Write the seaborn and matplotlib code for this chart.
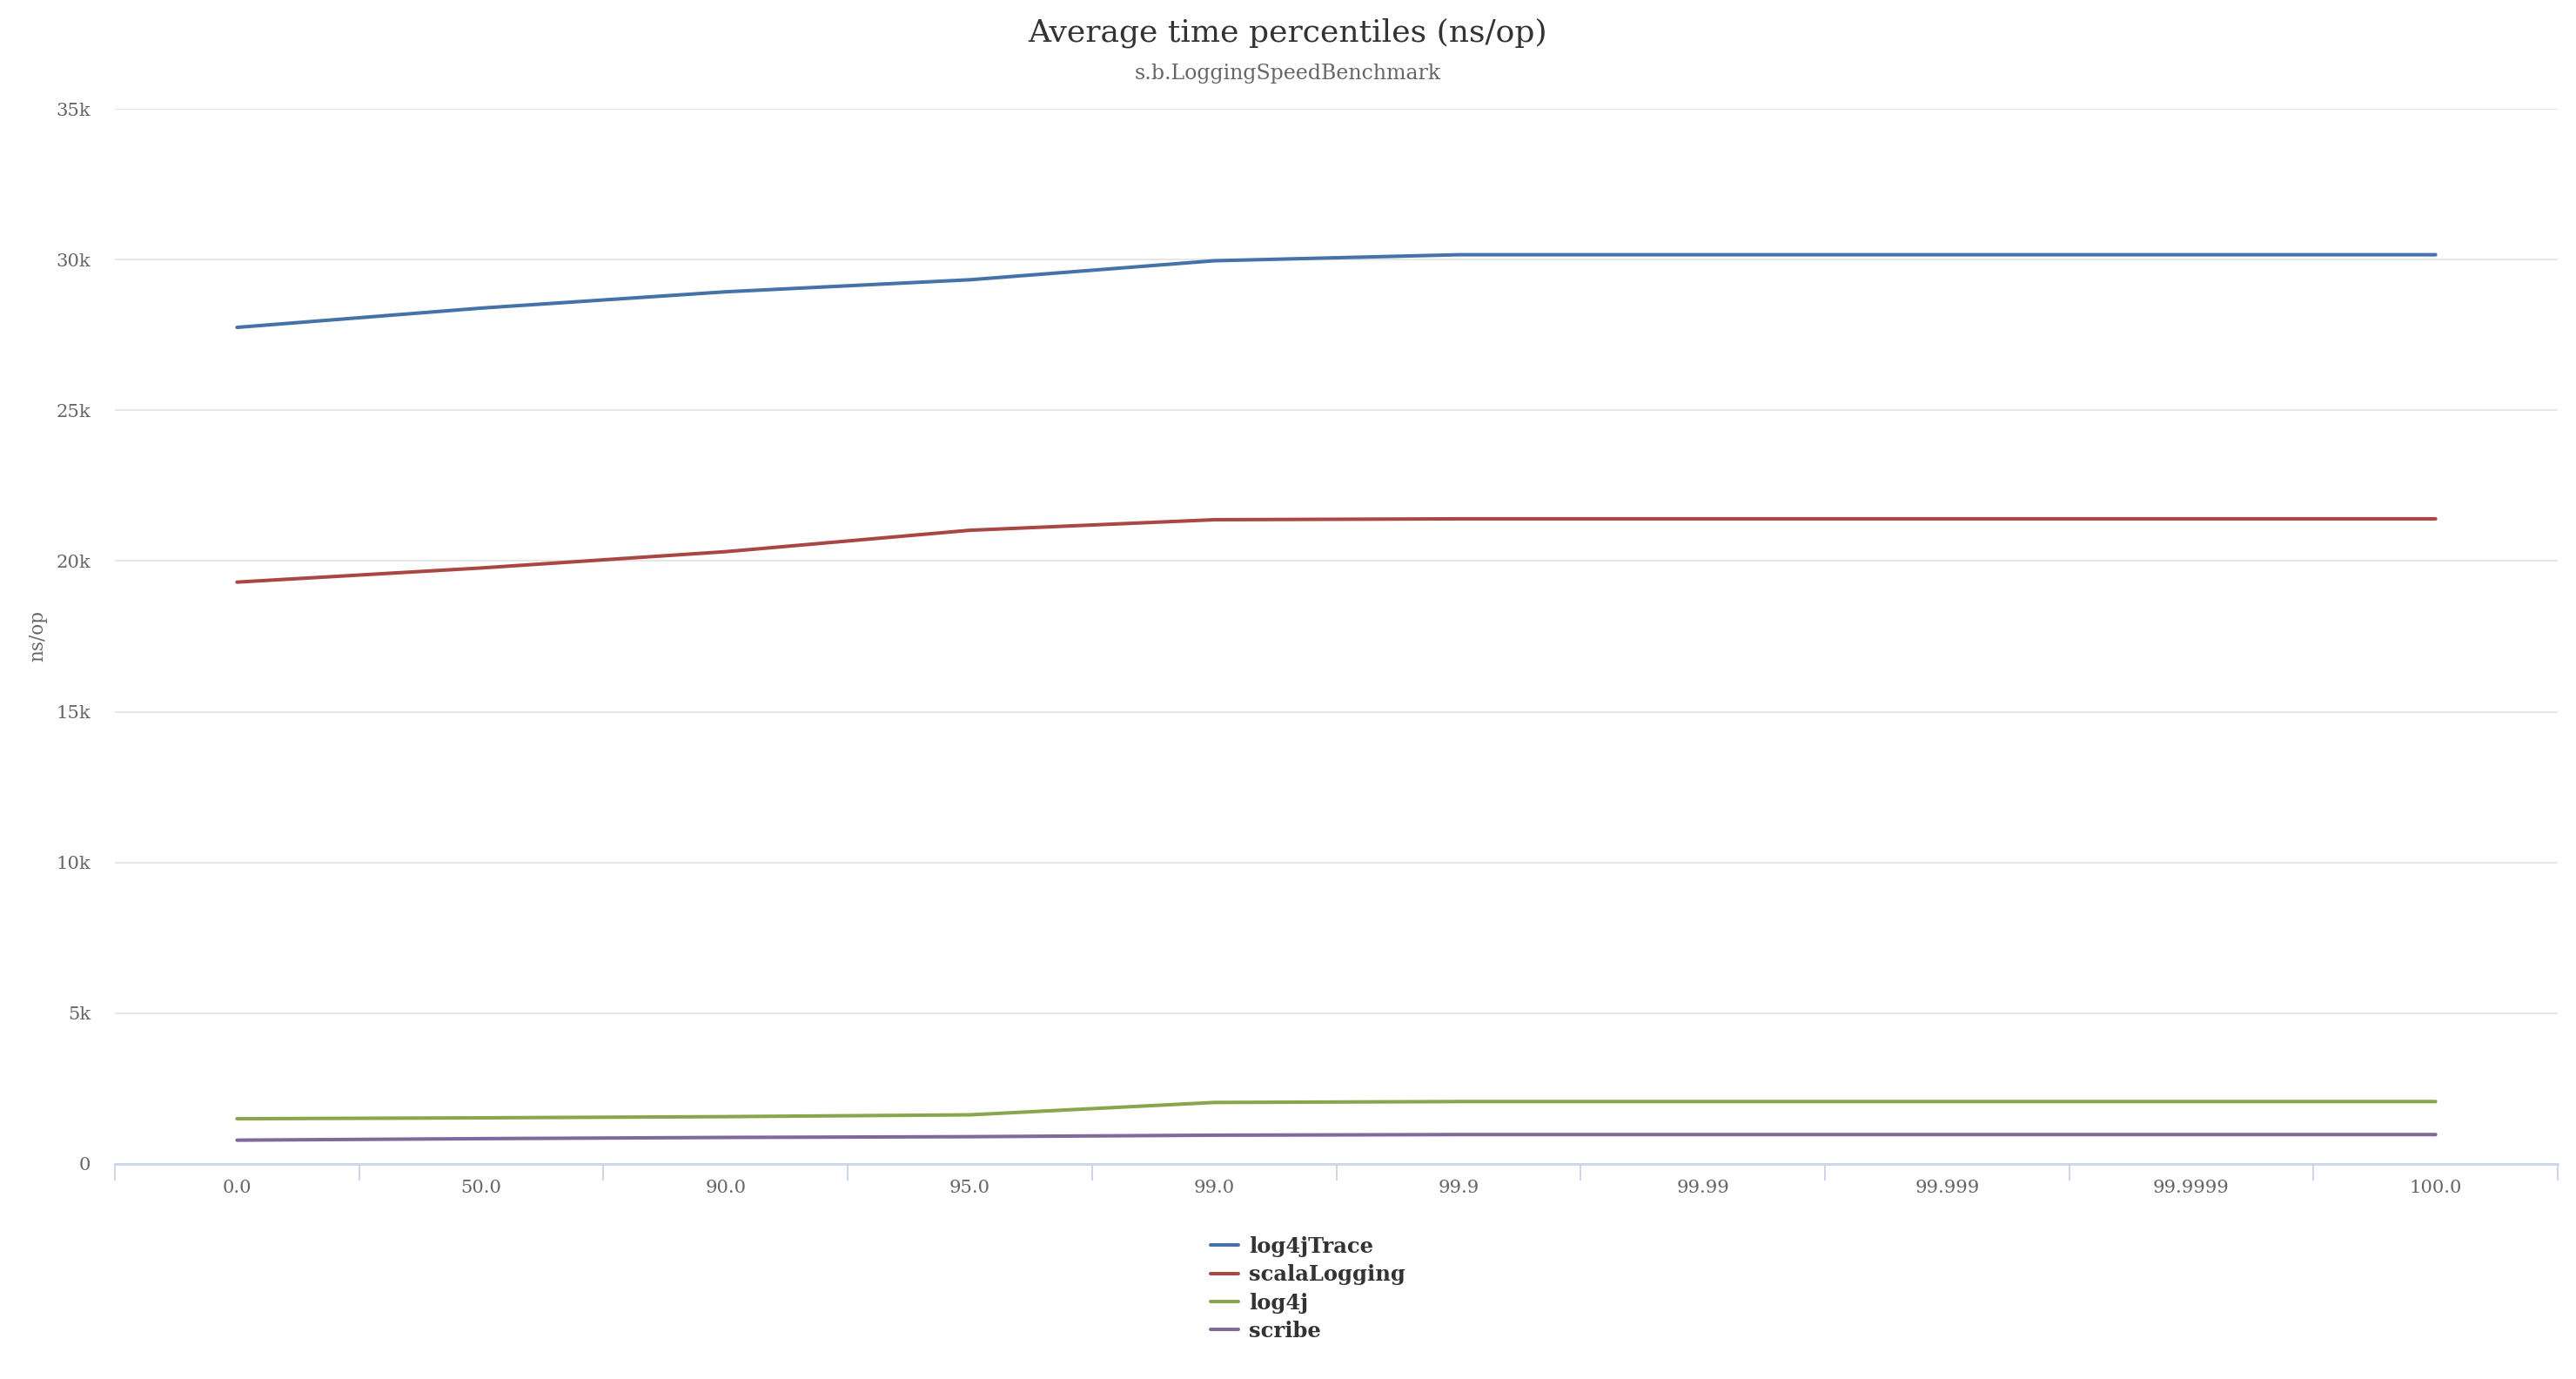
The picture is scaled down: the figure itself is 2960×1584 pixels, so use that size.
import matplotlib
matplotlib.use("Agg")
import matplotlib.pyplot as plt
import seaborn as sns
import pandas as pd
from matplotlib.ticker import FixedLocator, FuncFormatter

percentiles = ["0.0", "50.0", "90.0", "95.0", "99.0", "99.9", "99.99", "99.999", "99.9999", "100.0"]
log4jTrace = [27750, 28390, 28930, 29330, 29960, 30160, 30160, 30160, 30160, 30160]
scalaLogging = [19300, 19770, 20310, 21020, 21370, 21400, 21400, 21400, 21400, 21400]
log4j = [1500, 1530, 1570, 1630, 2040, 2070, 2070, 2070, 2070, 2070]
scribe = [790, 840, 880, 905, 955, 975, 975, 975, 975, 975]
series_names = ["log4jTrace", "scalaLogging", "log4j", "scribe"]
y_ticks = [0, 5000, 10000, 15000, 20000, 25000, 30000, 35000]

colors = ["#4572A7", "#AA4643", "#89A54E", "#80699B"]

rows = []
for name, vals in zip(series_names, [log4jTrace, scalaLogging, log4j, scribe]):
    for i, (p, v) in enumerate(zip(percentiles, vals)):
        rows.append({"pos": i, "percentile": p, "value": v, "series": name})
df = pd.DataFrame(rows)

sns.set_theme(style="white")
fam = ["DejaVu Serif", "DejaVu Sans"]
plt.rcParams["font.family"] = fam

W, H = 2960, 1584
fig = plt.figure(figsize=(W / 100, H / 100), dpi=100)
left, right, top, bottom = 132, 2939, 125, 1337
ax = fig.add_axes([left / W, 1 - bottom / H, (right - left) / W, (bottom - top) / H])

sns.lineplot(data=df, x="pos", y="value", hue="series", palette=colors,
             hue_order=series_names, sort=False, linewidth=2.9, ax=ax,
             legend=False, solid_capstyle="round")

ax.set_xlim(-0.5, len(percentiles) - 0.5)
ax.set_ylim(0, 35000)

ax.yaxis.set_major_locator(FixedLocator(y_ticks))
ax.yaxis.set_major_formatter(FuncFormatter(lambda v, p: "0" if v == 0 else f"{int(v/1000)}k"))
ax.grid(axis="y", color="#e6e6e6", linewidth=1.4)
ax.set_axisbelow(True)

tick_size = 15.2
ax.set_xticks(range(len(percentiles)))
ax.set_xticklabels(percentiles)
ax.set_xticks([i - 0.5 for i in range(len(percentiles) + 1)], minor=True)
ax.tick_params(axis="x", which="major", bottom=False, length=0, pad=13,
               labelsize=tick_size, labelcolor="#666666")
ax.tick_params(axis="x", which="minor", bottom=True, length=14, width=1.4,
               color="#ccd6eb", direction="out")
ax.tick_params(axis="y", length=0, pad=20, labelsize=tick_size, labelcolor="#666666")

for s in ["top", "right", "left"]:
    ax.spines[s].set_visible(False)
ax.spines["bottom"].set_color("#ccd6eb")
ax.spines["bottom"].set_linewidth(2)

ax.set_xlabel("")
ax.set_ylabel("ns/op", fontsize=15.5, color="#666666")
ax.yaxis.set_label_coords(-(132 - 54) / (right - left), 0.5)

fig.text(0.5, 1 - 38 / H, "Average time percentiles (ns/op)", ha="center", va="center",
         fontsize=26, color="#333333")
fig.text(0.5, 1 - 85 / H, "s.b.LoggingSpeedBenchmark", ha="center", va="center",
         fontsize=17, color="#666666")

handles = ax.get_lines()[:4]
leg = fig.legend(handles, series_names, loc="upper left",
                 bbox_to_anchor=(1391 / W, 1 - 1420 / H), frameon=False,
                 prop={"family": fam, "weight": "bold", "size": 17.5},
                 labelcolor="#333333",
                 handlelength=1.3, handletextpad=0.5, labelspacing=0.34,
                 borderpad=0, borderaxespad=0)

fig.savefig("out.png", dpi=100, facecolor="white")
